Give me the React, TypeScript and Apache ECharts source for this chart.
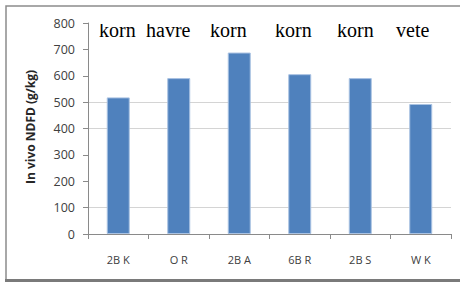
import React, { useEffect, useRef } from "react";
import * as echarts from "echarts";

const categories = ["2B K", "O R", "2B A", "6B R", "2B S", "W K"];
const ndfdValues = [518, 591, 688, 606, 591, 493];
const yTicks = [0, 100, 200, 300, 400, 500, 600, 700, 800];
const visibleGridValues = [100, 400, 500];
const topLabels = ["korn", "havre", "korn", "korn", "korn", "vete"];
const yAxisTitle = "In vivo NDFD (g/kg)";

export default function App() {
  const ref = useRef<HTMLDivElement>(null);
  useEffect(() => {
    if (!ref.current) return;
    const chart = echarts.init(ref.current, null, { renderer: "svg" });
    const topX = [99, 146, 210, 275, 337, 396];
    const gridColors = yTicks.map((v) =>
      visibleGridValues.includes(v) ? "#d4d4d4" : "#ffffff"
    );
    chart.setOption({
      animation: false,
      backgroundColor: "#ffffff",
      grid: { left: 88, right: 9, top: 23, bottom: 50 },
      xAxis: {
        type: "category",
        data: categories,
        axisLine: { show: true, lineStyle: { color: "#8a8a8a", width: 1 } },
        axisTick: { show: true, length: 5, lineStyle: { color: "#8a8a8a" } },
        splitLine: { show: false },
        axisLabel: {
          color: "#404040",
          fontFamily: "Open Sans",
          fontSize: 11,
          margin: 20,
        },
      },
      yAxis: {
        type: "value",
        min: yTicks[0],
        max: yTicks[yTicks.length - 1],
        interval: 100,
        axisLine: { show: true, lineStyle: { color: "#8a8a8a", width: 1 } },
        axisTick: { show: true, length: 5, lineStyle: { color: "#8a8a8a" } },
        splitLine: { show: true, lineStyle: { color: gridColors, width: 1.2 } },
        axisLabel: {
          color: "#404040",
          fontFamily: "Open Sans",
          fontSize: 12.5,
          margin: 13,
        },
      },
      series: [
        {
          type: "bar",
          data: ndfdValues,
          barWidth: "38%",
          itemStyle: { color: "#4f81bd", borderColor: "#a9c2e2", borderWidth: 1 },
          z: 2,
        },
      ],
      graphic: [
        {
          type: "rect",
          shape: { x: 6, y: 6, width: 470, height: 274 },
          style: { fill: "none", stroke: "#8c8c8c", lineWidth: 1.5 },
          silent: true,
        },
        {
          type: "line",
          shape: { x1: 5, y1: 280.5, x2: 460, y2: 280.5 },
          style: { stroke: "#7a7a7a", lineWidth: 3 },
          silent: true,
        },
        {
          type: "text",
          x: 30,
          y: 127,
          rotation: Math.PI / 2,
          style: {
            text: yAxisTitle,
            fontFamily: "Open Sans",
            fontWeight: "bold",
            fontSize: 12,
            fill: "#262626",
            align: "center",
            verticalAlign: "middle",
          },
        },
        ...topLabels.map((t, i) => ({
          type: "text",
          x: topX[i],
          y: 40,
          style: {
            text: t,
            fontFamily: "Liberation Serif",
            fontSize: 20,
            fill: "#000000",
            align: "left",
            verticalAlign: "bottom",
          },
        })),
      ],
    });
    return () => chart.dispose();
  }, []);
  return (
    <div
      ref={ref}
      style={{ position: "fixed", left: 0, top: 0, width: 460, height: 284 }}
    />
  );
}
